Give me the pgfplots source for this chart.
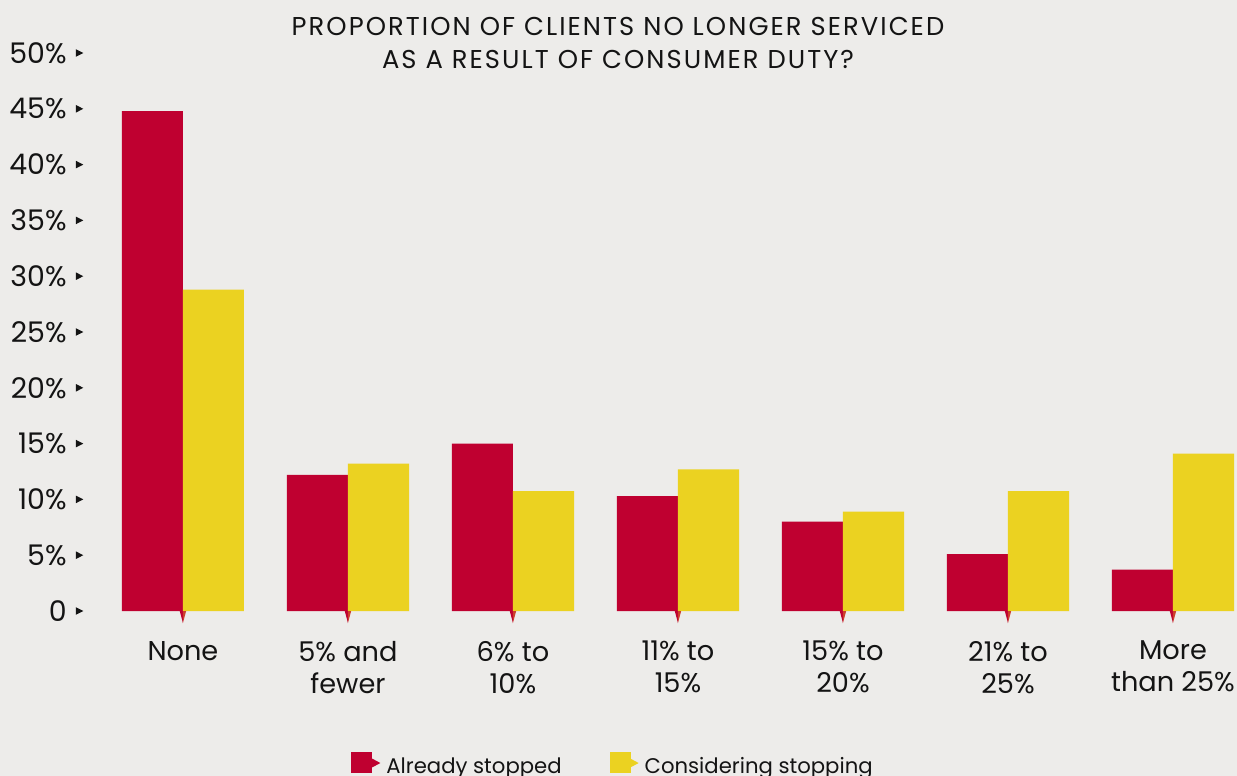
\documentclass[border=0pt]{standalone}
\usepackage{pgfplots}
\usepackage{pgfplotstable}
\pgfplotsset{compat=1.18}
\usepackage{fontspec}
\setmainfont{Poppins}
\newfontfamily\titlefont[LetterSpace=8]{Poppins}

\definecolor{bg}{RGB}{237,236,234}
\definecolor{redbar}{RGB}{191,0,48}
\definecolor{yellowbar}{RGB}{235,210,33}
\definecolor{ink}{RGB}{20,20,20}

% small right-pointing arrowhead for the value ticks
\pgfdeclareplotmark{ytip}{%
  \pgfpathmoveto{\pgfqpoint{-1.8bp}{-1.9bp}}%
  \pgfpathlineto{\pgfqpoint{1.9bp}{0bp}}%
  \pgfpathlineto{\pgfqpoint{-1.8bp}{1.9bp}}%
  \pgfpathclose\pgfusepathqfill}
% halves of the pointer below each category
\pgfdeclareplotmark{xtipleft}{%
  \pgfpathmoveto{\pgfqpoint{-1.6bp}{0bp}}%
  \pgfpathlineto{\pgfqpoint{0bp}{0bp}}%
  \pgfpathlineto{\pgfqpoint{0bp}{-6bp}}%
  \pgfpathclose\pgfusepathqfill}
\pgfdeclareplotmark{xtipright}{%
  \pgfpathmoveto{\pgfqpoint{0bp}{0bp}}%
  \pgfpathlineto{\pgfqpoint{1.6bp}{0bp}}%
  \pgfpathlineto{\pgfqpoint{0bp}{-6bp}}%
  \pgfpathclose\pgfusepathqfill}

\pgfplotstableread{
x stopped considering
0 44.8 28.8
1 12.2 13.2
2 15.0 10.75
3 10.3 12.7
4 8.0  8.9
5 5.1  10.75
6 3.7  14.1
}\datatable

\begin{document}
\begin{tikzpicture}
\fill[bg] (0,0) rectangle (618.5bp,388bp);
\useasboundingbox (0,0) rectangle (618.5bp,388bp);

\node[anchor=base, font=\titlefont\fontsize{12.9bp}{15bp}\selectfont, text=ink, inner sep=0pt]
  at (309bp,370bp) {PROPORTION OF CLIENTS NO LONGER SERVICED};
\node[anchor=base, font=\titlefont\fontsize{12.9bp}{15bp}\selectfont, text=ink, inner sep=0pt]
  at (309bp,353.6bp) {AS A RESULT OF CONSUMER DUTY?};

\begin{axis}[
  at={(39bp,82.5bp)}, anchor=south west,
  scale only axis, width=579.5bp, height=279bp,
  xmin=-0.636, xmax=6.388, ymin=0, ymax=50,
  clip=false,
  axis line style={draw=none},
  major tick length=0pt,
  xtick={0,1,2,3,4,5,6},
  xticklabels={None,{5\% and\\fewer},{6\% to\\10\%},{11\% to\\15\%},{15\% to\\20\%},{21\% to\\25\%},{More\\than 25\%}},
  xticklabel style={align=center, font=\fontsize{13.6bp}{16bp}\selectfont, text=ink, yshift=-11.5bp},
  ytick={0,5,...,50},
  yticklabels={0,5\%,10\%,15\%,20\%,25\%,30\%,35\%,40\%,45\%,50\%},
  yticklabel style={font=\fontsize{14.2bp}{16bp}\selectfont, text=ink, anchor=east, inner sep=0pt, xshift=-5.5bp},
  legend style={at={(0.4625,-0.279)}, anchor=center, draw=none, fill=none,
    font=\fontsize{10.6bp}{12.5bp}\selectfont, text=ink,
    legend columns=2,
    /tikz/every even column/.append style={column sep=22bp}},
  legend cell align=left,
]
\addplot[fill=redbar, draw=none, ybar, bar width=0.37, bar shift=-0.185,
  legend image code/.code={
    \fill[redbar] (0bp,-3bp) rectangle (10.5bp,7.5bp);
    \fill[redbar] (10.4bp,0bp) -- (14.5bp,2.2bp) -- (10.4bp,4.4bp) -- cycle;
    \path (15.5bp,0bp);}]
  table[x=x, y=stopped] {\datatable};
\addlegendentry{Already stopped}
\addplot[fill=yellowbar, draw=none, ybar, bar width=0.37, bar shift=0.185,
  legend image code/.code={
    \fill[yellowbar] (0bp,-3bp) rectangle (10.5bp,7.5bp);
    \fill[yellowbar] (10.4bp,0bp) -- (14.5bp,2.2bp) -- (10.4bp,4.4bp) -- cycle;
    \path (15.5bp,0bp);}]
  table[x=x, y=considering] {\datatable};
\addlegendentry{Considering stopping}

% pointers under the categories
\addplot[forget plot, only marks, mark=xtipleft, redbar, mark options={fill=redbar, draw=none}]
  coordinates {(0,0)(1,0)(2,0)(3,0)(4,0)(5,0)(6,0)};
\addplot[forget plot, only marks, mark=xtipright, redbar!70!yellowbar, mark options={fill=redbar!70!yellowbar, draw=none}]
  coordinates {(0,0)(1,0)(2,0)(3,0)(4,0)(5,0)(6,0)};
% arrowheads beside the value labels
\addplot[forget plot, only marks, mark=ytip, ink, mark options={fill=ink, draw=none}]
  coordinates {(-0.627,0)(-0.627,5)(-0.627,10)(-0.627,15)(-0.627,20)(-0.627,25)
               (-0.627,30)(-0.627,35)(-0.627,40)(-0.627,45)(-0.627,50)};
\end{axis}
\end{tikzpicture}
\end{document}
